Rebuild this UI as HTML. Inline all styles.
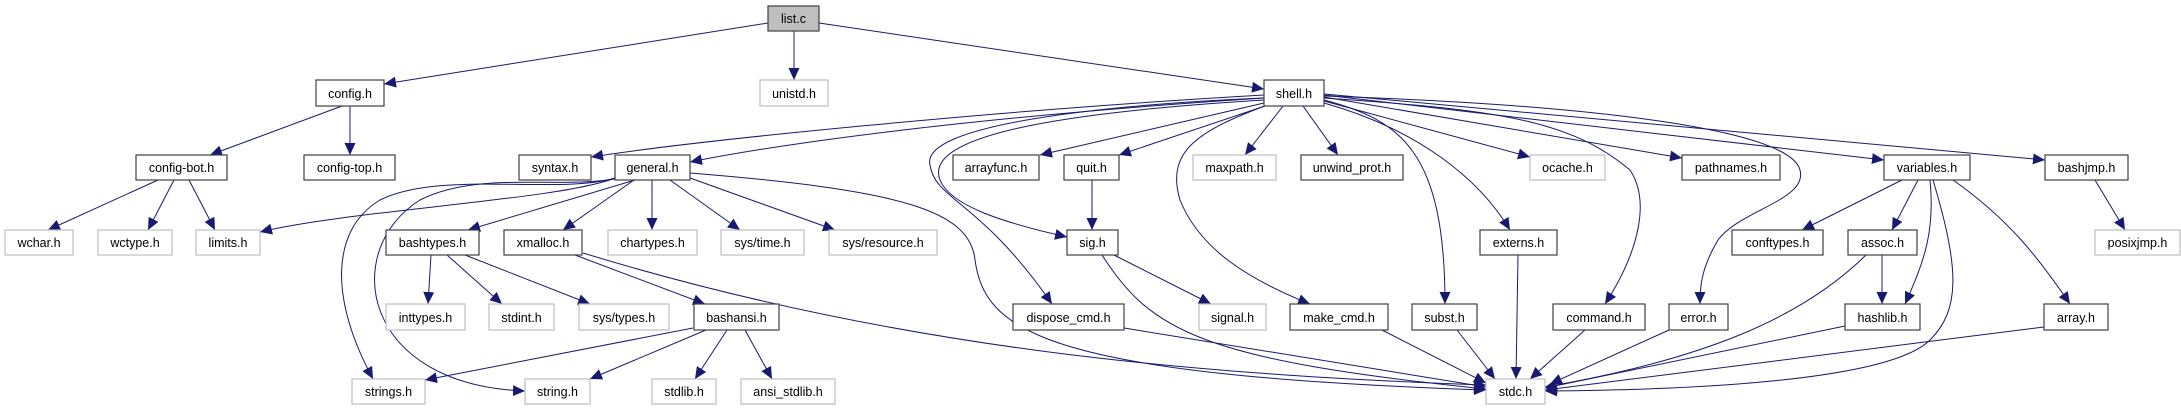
<!DOCTYPE html>
<html><head><meta charset="utf-8"><style>
html,body{margin:0;padding:0;background:#fff;}
svg{display:block;}
text{font-family:"Liberation Sans",sans-serif;font-size:12.5px;fill:#000;text-anchor:middle;}
.b{fill:#fff;stroke:#404040;stroke-width:1.2;}
.g{fill:#fff;stroke:#bfbfbf;stroke-width:1.2;}
.e{fill:none;stroke:#191970;stroke-width:1;marker-end:url(#ah);}
</style></head><body>
<svg width="2181" height="411" viewBox="0 0 2181 411" xmlns="http://www.w3.org/2000/svg">
<defs><marker id="ah" markerUnits="userSpaceOnUse" markerWidth="14" markerHeight="12" refX="12" refY="5.5" orient="auto"><path d="M0,0 L12,5.5 L0,11 z" fill="#191970"/></marker></defs>
<g>
<path class="e" d="M768,23 L384,84"/>
<path class="e" d="M794,31 L794,80"/>
<path class="e" d="M819,23 L1264,89"/>
<path class="e" d="M342,106 L210,155"/>
<path class="e" d="M350,106 L350,155"/>
<path class="e" d="M158,180 L48,230"/>
<path class="e" d="M174,180 L148,230"/>
<path class="e" d="M189,180 L215,230"/>
<path class="e" d="M615,178 C560,200 350,210 260,232"/>
<path class="e" d="M615,178 C560,195 440,170 380,200 C330,230 330,300 373,379"/>
<path class="e" d="M620,178 C560,190 480,170 420,200 C340,250 360,385 525,391"/>
<path class="e" d="M635,180 L468,230"/>
<path class="e" d="M634,180 L563,230"/>
<path class="e" d="M652,180 L652,230"/>
<path class="e" d="M670,180 L740,230"/>
<path class="e" d="M690,178 L835,230"/>
<path class="e" d="M690,173 C900,190 970,210 975,260 C985,330 1040,375 1486,390"/>
<path class="e" d="M431,255 L428,304"/>
<path class="e" d="M447,255 L502,304"/>
<path class="e" d="M465,255 L590,304"/>
<path class="e" d="M575,255 L705,304"/>
<path class="e" d="M583,253 C900,350 1200,375 1486,385"/>
<path class="e" d="M693,328 L425,380"/>
<path class="e" d="M706,330 L590,379"/>
<path class="e" d="M727,330 L695,379"/>
<path class="e" d="M745,330 L772,379"/>
<path class="e" d="M1264,95 C1000,110 700,140 591,157"/>
<path class="e" d="M1264,98 C1000,115 800,140 690,162"/>
<path class="e" d="M1264,103 L1040,155"/>
<path class="e" d="M1268,105 L1119,155"/>
<path class="e" d="M1264,100 C1100,110 920,130 940,180 C950,205 1000,222 1067,237"/>
<path class="e" d="M1264,98 C1100,105 920,125 930,165 C935,200 980,200 1052,304"/>
<path class="e" d="M1283,106 L1245,155"/>
<path class="e" d="M1303,106 L1338,155"/>
<path class="e" d="M1270,104 C1200,130 1165,150 1180,200 C1200,250 1250,280 1310,304"/>
<path class="e" d="M1324,100 C1400,120 1445,150 1445,304"/>
<path class="e" d="M1324,103 C1420,130 1480,180 1510,230"/>
<path class="e" d="M1324,101 L1530,157"/>
<path class="e" d="M1324,98 C1500,110 1570,120 1630,170 C1650,200 1640,250 1605,304"/>
<path class="e" d="M1324,97 L1682,158"/>
<path class="e" d="M1324,96 C1600,105 1790,130 1800,170 C1808,200 1740,210 1718,240 C1700,270 1700,290 1700,304"/>
<path class="e" d="M1324,95 L1884,160"/>
<path class="e" d="M1324,94 L2045,160"/>
<path class="e" d="M2095,180 L2125,230"/>
<path class="e" d="M1902,180 L1802,230"/>
<path class="e" d="M1918,180 L1892,230"/>
<path class="e" d="M1930,180 C1935,230 1925,260 1905,304"/>
<path class="e" d="M1933,180 C1960,270 1960,310 1930,340 C1890,380 1700,390 1545,391"/>
<path class="e" d="M1953,180 C2010,220 2040,260 2070,304"/>
<path class="e" d="M1882,255 L1882,304"/>
<path class="e" d="M1866,255 C1800,320 1700,360 1545,387"/>
<path class="e" d="M1845,326 L1545,388"/>
<path class="e" d="M2044,327 L1545,390"/>
<path class="e" d="M1669,330 L1550,384"/>
<path class="e" d="M1585,330 L1530,379"/>
<path class="e" d="M1518,255 L1516,379"/>
<path class="e" d="M1457,330 L1495,379"/>
<path class="e" d="M1382,330 L1486,383"/>
<path class="e" d="M1124,328 L1486,387"/>
<path class="e" d="M1102,255 C1150,330 1200,360 1486,389"/>
<path class="e" d="M1114,255 L1211,304"/>
<path class="e" d="M1092,180 L1092,230"/>
</g>
<g>
<rect x="768" y="6" width="51" height="25" fill="#bfbfbf" stroke="#404040" stroke-width="1.2"/><text x="793.5" y="23">list.c</text>
<rect class="b" x="316" y="80" width="68" height="26"/><text x="350" y="98">config.h</text>
<rect class="g" x="760" y="80" width="68" height="26"/><text x="794" y="98">unistd.h</text>
<rect class="b" x="1264" y="80" width="60" height="26"/><text x="1294" y="98">shell.h</text>

<rect class="b" x="136" y="155" width="91" height="25"/><text x="181.5" y="172">config-bot.h</text>
<rect class="b" x="304" y="155" width="91" height="25"/><text x="349.5" y="172">config-top.h</text>
<rect class="b" x="519" y="155" width="72" height="25"/><text x="555" y="172">syntax.h</text>
<rect class="b" x="615" y="155" width="75" height="25"/><text x="652.5" y="172">general.h</text>
<rect class="b" x="953" y="155" width="86" height="25"/><text x="996" y="172">arrayfunc.h</text>
<rect class="b" x="1064" y="155" width="55" height="25"/><text x="1091.5" y="172">quit.h</text>
<rect class="g" x="1193" y="155" width="83" height="25"/><text x="1234.5" y="172">maxpath.h</text>
<rect class="b" x="1301" y="155" width="102" height="25"/><text x="1352" y="172">unwind_prot.h</text>
<rect class="g" x="1530" y="155" width="75" height="25"/><text x="1567.5" y="172">ocache.h</text>
<rect class="b" x="1682" y="155" width="98" height="25"/><text x="1731" y="172">pathnames.h</text>
<rect class="b" x="1884" y="155" width="86" height="25"/><text x="1927" y="172">variables.h</text>
<rect class="b" x="2045" y="155" width="83" height="25"/><text x="2086.5" y="172">bashjmp.h</text>

<rect class="g" x="5" y="230" width="68" height="25"/><text x="39" y="247">wchar.h</text>
<rect class="g" x="98" y="230" width="74" height="25"/><text x="135" y="247">wctype.h</text>
<rect class="g" x="196" y="230" width="64" height="25"/><text x="228" y="247">limits.h</text>
<rect class="b" x="386" y="230" width="93" height="25"/><text x="432.5" y="247">bashtypes.h</text>
<rect class="b" x="504" y="230" width="78" height="25"/><text x="543" y="247">xmalloc.h</text>
<rect class="g" x="608" y="230" width="89" height="25"/><text x="652.5" y="247">chartypes.h</text>
<rect class="g" x="721" y="230" width="83" height="25"/><text x="762.5" y="247">sys/time.h</text>
<rect class="g" x="829" y="230" width="108" height="25"/><text x="883" y="247">sys/resource.h</text>
<rect class="b" x="1067" y="230" width="51" height="25"/><text x="1092.5" y="247">sig.h</text>
<rect class="b" x="1480" y="230" width="77" height="25"/><text x="1518.5" y="247">externs.h</text>
<rect class="b" x="1732" y="230" width="91" height="25"/><text x="1777.5" y="247">conftypes.h</text>
<rect class="b" x="1848" y="230" width="69" height="25"/><text x="1882.5" y="247">assoc.h</text>
<rect class="g" x="2095" y="230" width="85" height="25"/><text x="2137.5" y="247">posixjmp.h</text>

<rect class="g" x="386" y="304" width="79" height="26"/><text x="425.5" y="322">inttypes.h</text>
<rect class="g" x="489" y="304" width="65" height="26"/><text x="521.5" y="322">stdint.h</text>
<rect class="g" x="579" y="304" width="90" height="26"/><text x="624" y="322">sys/types.h</text>
<rect class="b" x="694" y="304" width="85" height="26"/><text x="736.5" y="322">bashansi.h</text>
<rect class="b" x="1013" y="304" width="111" height="26"/><text x="1068.5" y="322">dispose_cmd.h</text>
<rect class="g" x="1199" y="304" width="67" height="26"/><text x="1232.5" y="322">signal.h</text>
<rect class="b" x="1290" y="304" width="98" height="26"/><text x="1339" y="322">make_cmd.h</text>
<rect class="b" x="1412" y="304" width="65" height="26"/><text x="1444.5" y="322">subst.h</text>
<rect class="b" x="1553" y="304" width="92" height="26"/><text x="1599" y="322">command.h</text>
<rect class="b" x="1669" y="304" width="59" height="26"/><text x="1698.5" y="322">error.h</text>
<rect class="b" x="1845" y="304" width="75" height="26"/><text x="1882.5" y="322">hashlib.h</text>
<rect class="b" x="2044" y="304" width="64" height="26"/><text x="2076" y="322">array.h</text>

<rect class="g" x="352" y="379" width="73" height="25"/><text x="388.5" y="396">strings.h</text>
<rect class="g" x="525" y="379" width="65" height="25"/><text x="557.5" y="396">string.h</text>
<rect class="g" x="652" y="379" width="64" height="25"/><text x="684" y="396">stdlib.h</text>
<rect class="g" x="741" y="379" width="94" height="25"/><text x="788" y="396">ansi_stdlib.h</text>
<rect class="g" x="1486" y="379" width="59" height="25"/><text x="1515.5" y="396">stdc.h</text>
</g>
</svg>
</body></html>
